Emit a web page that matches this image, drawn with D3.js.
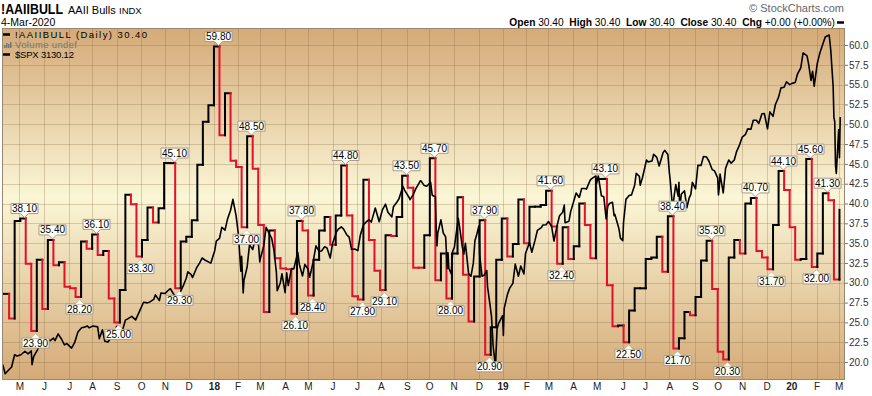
<!DOCTYPE html>
<html>
<head>
<meta charset="utf-8">
<script src="https://cdn.jsdelivr.net/npm/d3@7"></script>
<style>
  body { margin: 0; background: #fff; }
  svg { display: block; font-family: "Liberation Sans", Arial, sans-serif; }
</style>
</head>
<body>
<script>
// AAII bullish %, one reading per week starting at bullStart
const bullStart = "2017-04-11";
const bullValues = [
  28.6, 25.5, 37.8, 38.1, 32.4, 23.9, 32.9, 26.7, 35.4, 32.2,
  32.6, 29.5, 29.3, 28.2, 35.2, 34.3, 36.1, 33.5, 34.0, 28.0,
  25.0, 29.1, 41.1, 39.9, 33.3, 35.4, 39.5, 37.6, 39.4, 45.1,
  45.1, 29.3, 35.2, 35.8, 37.9, 44.9, 50.3, 52.4, 59.8, 48.6,
  53.9, 45.4, 44.6, 37.0, 48.5, 44.4, 37.3, 26.3, 36.6, 33.1,
  31.8, 31.7, 26.1, 37.8, 36.6, 28.4, 32.9, 36.6, 38.3, 34.8,
  38.5, 44.8, 38.5, 28.3, 27.9, 43.0, 35.4, 31.5, 29.1, 36.0,
  35.9, 38.3, 43.5, 42.0, 31.9, 31.9, 36.0, 45.7, 30.3, 33.7,
  28.0, 33.7, 40.8, 31.0, 25.1, 30.8, 37.9, 20.9, 24.4, 32.9,
  38.1, 33.3, 34.9, 40.5, 35.0, 39.6, 39.6, 39.8, 41.6, 37.1,
  32.4, 37.0, 33.0, 34.6, 40.0, 37.3, 33.1, 43.1, 43.1, 29.7,
  24.5, 24.6, 22.5, 26.5, 29.3, 29.3, 33.0, 33.2, 35.8, 31.4,
  38.4, 21.7, 23.0, 26.3, 25.9, 28.2, 32.8, 35.3, 29.2, 21.3,
  20.3, 33.2, 35.4, 33.7, 40.0, 40.7, 34.0, 33.2, 31.7, 37.3,
  44.1, 41.7, 37.0, 32.9, 33.0, 45.6, 32.0, 33.7, 41.3, 40.4,
  30.4, 39.2
];
// weeks that carry a value callout (index into bullValues)
const peakWeeks = [3, 8, 16, 30, 38, 44, 53, 61, 72, 77, 86, 98, 108, 120, 127, 135, 140, 145, 148];
const troughWeeks = [5, 13, 20, 24, 31, 43, 52, 55, 64, 68, 80, 87, 100, 112, 121, 130, 138, 146];

// S&P 500 closes (overlay)
const spxDates = [
  "2017-04-10","2017-04-13","2017-04-18","2017-04-21","2017-04-25","2017-04-28","2017-05-03","2017-05-08","2017-05-12","2017-05-16",
  "2017-05-17","2017-05-19","2017-05-24","2017-05-26","2017-06-01","2017-06-05","2017-06-09","2017-06-13","2017-06-15","2017-06-19",
  "2017-06-23","2017-06-27","2017-06-30","2017-07-06","2017-07-10","2017-07-14","2017-07-19","2017-07-21","2017-07-26","2017-07-28",
  "2017-08-02","2017-08-08","2017-08-10","2017-08-14","2017-08-17","2017-08-21","2017-08-24","2017-08-29","2017-09-01","2017-09-05",
  "2017-09-08","2017-09-12","2017-09-15","2017-09-20","2017-09-25","2017-09-29","2017-10-05","2017-10-10","2017-10-13","2017-10-18",
  "2017-10-20","2017-10-25","2017-10-27","2017-11-01","2017-11-06","2017-11-08","2017-11-15","2017-11-20","2017-11-24","2017-11-28",
  "2017-11-30","2017-12-04","2017-12-06","2017-12-11","2017-12-15","2017-12-18","2017-12-22","2017-12-29",
  "2018-01-03","2018-01-05","2018-01-09","2018-01-12","2018-01-16","2018-01-19","2018-01-23","2018-01-26","2018-01-30","2018-02-02",
  "2018-02-05","2018-02-06","2018-02-08","2018-02-09","2018-02-13","2018-02-16","2018-02-20","2018-02-23","2018-02-27","2018-03-01",
  "2018-03-02","2018-03-06","2018-03-09","2018-03-13","2018-03-16","2018-03-19","2018-03-22","2018-03-23","2018-03-27","2018-03-29",
  "2018-04-02","2018-04-04","2018-04-06","2018-04-10","2018-04-13","2018-04-18","2018-04-20","2018-04-24","2018-04-27","2018-05-01",
  "2018-05-03","2018-05-07","2018-05-11","2018-05-15","2018-05-18","2018-05-22","2018-05-25","2018-05-29","2018-06-01","2018-06-06",
  "2018-06-08","2018-06-12","2018-06-15","2018-06-19","2018-06-22","2018-06-25","2018-06-29","2018-07-03","2018-07-06","2018-07-10",
  "2018-07-13","2018-07-17","2018-07-20","2018-07-25","2018-07-30","2018-08-03","2018-08-07","2018-08-10","2018-08-15","2018-08-17",
  "2018-08-21","2018-08-24","2018-08-29","2018-08-31","2018-09-06","2018-09-07","2018-09-11","2018-09-14","2018-09-20","2018-09-21",
  "2018-09-25","2018-09-28","2018-10-03","2018-10-05","2018-10-09","2018-10-10","2018-10-11","2018-10-12","2018-10-16","2018-10-19",
  "2018-10-22","2018-10-24","2018-10-25","2018-10-26","2018-10-29","2018-10-31","2018-11-02","2018-11-07","2018-11-09","2018-11-12",
  "2018-11-14","2018-11-16","2018-11-20","2018-11-23","2018-11-26","2018-11-28","2018-11-30","2018-12-03","2018-12-04","2018-12-07",
  "2018-12-10","2018-12-13","2018-12-14","2018-12-17","2018-12-19","2018-12-21","2018-12-24","2018-12-26","2018-12-28",
  "2019-01-02","2019-01-03","2019-01-04","2019-01-08","2019-01-11","2019-01-15","2019-01-18","2019-01-22","2019-01-25","2019-01-29",
  "2019-01-31","2019-02-05","2019-02-08","2019-02-12","2019-02-15","2019-02-20","2019-02-22","2019-02-26","2019-03-01","2019-03-05",
  "2019-03-08","2019-03-12","2019-03-15","2019-03-19","2019-03-21","2019-03-22","2019-03-27","2019-03-29","2019-04-02","2019-04-05",
  "2019-04-09","2019-04-12","2019-04-16","2019-04-18","2019-04-23","2019-04-26","2019-04-30","2019-05-01","2019-05-03","2019-05-07",
  "2019-05-10","2019-05-13","2019-05-15","2019-05-17","2019-05-21","2019-05-23","2019-05-24","2019-05-29","2019-05-31","2019-06-03",
  "2019-06-04","2019-06-07","2019-06-11","2019-06-14","2019-06-18","2019-06-20","2019-06-24","2019-06-25","2019-06-28","2019-07-03",
  "2019-07-05","2019-07-10","2019-07-12","2019-07-16","2019-07-19","2019-07-24","2019-07-26","2019-07-30","2019-08-01","2019-08-02",
  "2019-08-05","2019-08-07","2019-08-09","2019-08-12","2019-08-13","2019-08-14","2019-08-16","2019-08-20","2019-08-23","2019-08-26",
  "2019-08-28","2019-08-30","2019-09-03","2019-09-06","2019-09-10","2019-09-13","2019-09-17","2019-09-20","2019-09-24","2019-09-27",
  "2019-10-01","2019-10-02","2019-10-03","2019-10-04","2019-10-08","2019-10-11","2019-10-15","2019-10-18","2019-10-22","2019-10-25",
  "2019-10-28","2019-11-01","2019-11-05","2019-11-08","2019-11-12","2019-11-15","2019-11-19","2019-11-22","2019-11-26","2019-11-29",
  "2019-12-03","2019-12-06","2019-12-10","2019-12-13","2019-12-17","2019-12-20","2019-12-24","2019-12-27","2019-12-31",
  "2020-01-03","2020-01-07","2020-01-10","2020-01-14","2020-01-17","2020-01-22","2020-01-24","2020-01-27","2020-01-29","2020-01-31",
  "2020-02-04","2020-02-07","2020-02-11","2020-02-14","2020-02-19","2020-02-21","2020-02-24","2020-02-25","2020-02-26","2020-02-27",
  "2020-02-28","2020-03-02","2020-03-03","2020-03-04"
];
const spxValues = [
  2357, 2329, 2342, 2349, 2388, 2384, 2388, 2399, 2391, 2400,
  2357, 2382, 2404, 2416, 2430, 2437, 2432, 2440, 2432, 2453,
  2438, 2419, 2423, 2409, 2427, 2459, 2473, 2473, 2478, 2472,
  2478, 2475, 2438, 2466, 2430, 2428, 2439, 2446, 2477, 2457,
  2461, 2496, 2500, 2508, 2497, 2519, 2552, 2550, 2553, 2561,
  2575, 2557, 2581, 2579, 2591, 2594, 2565, 2582, 2602, 2627,
  2647, 2639, 2629, 2659, 2675, 2690, 2683, 2674,
  2713, 2743, 2751, 2786, 2777, 2810, 2839, 2873, 2822, 2762,
  2649, 2695, 2581, 2620, 2662, 2732, 2716, 2747, 2744, 2678,
  2691, 2728, 2786, 2765, 2752, 2712, 2644, 2588, 2613, 2641,
  2582, 2644, 2604, 2657, 2656, 2708, 2670, 2634, 2670, 2655,
  2630, 2672, 2728, 2711, 2712, 2725, 2721, 2690, 2735, 2772,
  2779, 2787, 2780, 2762, 2755, 2717, 2718, 2713, 2760, 2793,
  2801, 2810, 2802, 2846, 2803, 2840, 2858, 2833, 2818, 2850,
  2863, 2875, 2914, 2902, 2878, 2872, 2888, 2905, 2931, 2930,
  2916, 2914, 2926, 2886, 2881, 2786, 2728, 2767, 2809, 2768,
  2756, 2657, 2706, 2658, 2641, 2712, 2723, 2814, 2781, 2726,
  2702, 2736, 2642, 2633, 2674, 2744, 2760, 2790, 2700, 2633,
  2637, 2651, 2600, 2546, 2507, 2417, 2351, 2468, 2486,
  2510, 2448, 2532, 2575, 2596, 2611, 2671, 2633, 2665, 2640,
  2704, 2738, 2708, 2745, 2776, 2785, 2793, 2794, 2804, 2789,
  2743, 2792, 2822, 2833, 2855, 2800, 2805, 2834, 2867, 2893,
  2879, 2907, 2907, 2905, 2934, 2940, 2946, 2924, 2946, 2884,
  2881, 2812, 2851, 2860, 2864, 2822, 2826, 2783, 2752, 2744,
  2803, 2873, 2885, 2887, 2917, 2954, 2945, 2917, 2942, 2996,
  2990, 2993, 3014, 3004, 2977, 3019, 3026, 3013, 2954, 2932,
  2845, 2884, 2919, 2883, 2926, 2840, 2889, 2900, 2847, 2878,
  2888, 2926, 2906, 2979, 2979, 3007, 3005, 2992, 2966, 2962,
  2940, 2887, 2910, 2952, 2893, 2970, 2996, 2986, 2996, 3023,
  3039, 3067, 3075, 3093, 3092, 3120, 3120, 3110, 3140, 3141,
  3093, 3146, 3132, 3169, 3192, 3221, 3223, 3240, 3231,
  3235, 3238, 3265, 3283, 3330, 3321, 3295, 3244, 3273, 3226,
  3298, 3328, 3358, 3380, 3386, 3338, 3226, 3128, 3116, 2979,
  2954, 3090, 3003, 3130
];
const yTicks = [20, 22.5, 25, 27.5, 30, 32.5, 35, 37.5, 40, 42.5, 45, 47.5, 50, 52.5, 55, 57.5, 60];

const W = 872, H = 396;
const L = 2, R = 845, T = 28, B = 380;
const red = "#e3102c";
const parse = d3.timeParse("%Y-%m-%d");

const svg = d3.select("body").append("svg")
  .attr("width", W)
  .attr("height", H);

const x = d3.scaleTime()
  .domain([new Date(2017, 3, 9), new Date(2020, 2, 10)])
  .range([L, R]);
const y = d3.scaleLinear()
  .domain([20, 60])
  .range([362, 45]);
const ySpx = d3.scaleLinear()
  .domain([2328, 3386])
  .range([374, 35]);

// background gradient
const grad = svg.append("defs").append("linearGradient")
  .attr("id", "bg").attr("x1", 0).attr("y1", 0).attr("x2", 0).attr("y2", 1);
grad.append("stop").attr("offset", "0%").attr("stop-color", "#d4aa78");
grad.append("stop").attr("offset", "48%").attr("stop-color", "#fbf6d6");
grad.append("stop").attr("offset", "100%").attr("stop-color", "#d4aa77");
svg.select("defs").append("clipPath").attr("id", "clip")
  .append("rect").attr("x", L).attr("y", T).attr("width", R - L).attr("height", B - T);

svg.append("rect")
  .attr("x", L).attr("y", T).attr("width", R - L).attr("height", B - T)
  .attr("fill", "url(#bg)");

// month boundaries = first trading day of each month
const months = d3.timeMonth.range(new Date(2017, 4, 1), new Date(2020, 2, 5)).map(d => {
  let t = new Date(d);
  if (t.getMonth() === 0) t = d3.timeDay.offset(t, 1);
  while (t.getDay() === 0 || t.getDay() === 6) t = d3.timeDay.offset(t, 1);
  return t;
});

// grid
const grid = svg.append("g").attr("stroke", "rgba(130,100,60,0.28)").attr("stroke-width", 1);
grid.selectAll("line.h").data(yTicks).enter().append("line")
  .attr("x1", L).attr("x2", R)
  .attr("y1", d => Math.round(y(d)) + 0.5).attr("y2", d => Math.round(y(d)) + 0.5);
grid.selectAll("line.v").data(months).enter().append("line")
  .attr("y1", T).attr("y2", B)
  .attr("x1", d => Math.round(x(d)) + 0.5).attr("x2", d => Math.round(x(d)) + 0.5);

// AAII step line, red on weeks that fell, black on weeks that rose
const bull = bullValues.map((v, i) => ({ date: d3.timeDay.offset(parse(bullStart), 7 * i), value: v }));
const segs = [];
let col = "#000";
bull.forEach((d, i) => {
  const prev = i > 0 ? bull[i - 1].value : d.value;
  if (d.value < prev) col = red;
  else if (d.value > prev) col = "#000";
  const next = i < bull.length - 1 ? bull[i + 1].date : d.date;
  segs.push({ pts: [[d.date, prev], [d.date, d.value], [next, d.value]], color: col });
});
const stepLine = d3.line().x(p => x(p[0])).y(p => y(p[1]));
const plotG = svg.append("g").attr("clip-path", "url(#clip)");
plotG.selectAll("path.bull").data(segs).enter().append("path")
  .attr("class", "bull")
  .attr("d", d => stepLine(d.pts))
  .attr("fill", "none")
  .attr("stroke", d => d.color)
  .attr("stroke-width", 2)
  .attr("stroke-linecap", "square");

// SPX overlay
const spx = spxDates.map((d, i) => ({ date: parse(d), value: spxValues[i] }));
plotG.append("path")
  .datum(spx)
  .attr("d", d3.line().x(d => x(d.date)).y(d => ySpx(d.value)))
  .attr("fill", "none")
  .attr("stroke", "#000")
  .attr("stroke-width", 1.6)
  .attr("stroke-linejoin", "round");

// value callouts
function callout(i, up) {
  const d = bull[i];
  const px = Math.round(x(d3.timeDay.offset(d.date, 5))) + 0.5;
  const py = y(d.value);
  const bw = 27, bh = 10;
  const tip = up ? py - 1 : py + 3;
  const base = up ? tip - 4 : tip + 4;
  const top = up ? base - bh : base;
  const g = svg.append("g");
  g.append("path")
    .attr("d", `M${px - bw / 2},${top} h${bw} v${bh} ` + (up
      ? `H${px + 4} L${px},${tip} L${px - 4},${base} H${px - bw / 2} Z`
      : `H${px - bw / 2} Z M${px - 4},${base} L${px},${tip} L${px + 4},${base}`))
    .attr("fill", "#fffffa")
    .attr("stroke", "#a89a8a")
    .attr("stroke-width", 1);
  if (!up) {
    g.append("path")
      .attr("d", `M${px - 4},${base} L${px},${tip} L${px + 4},${base} Z`)
      .attr("fill", "#fffffa").attr("stroke", "none");
  }
  g.append("text")
    .attr("x", px).attr("y", top + bh - 1.5)
    .attr("text-anchor", "middle")
    .attr("font-size", 10)
    .attr("fill", "#000")
    .text(d.value.toFixed(2));
}
peakWeeks.forEach(i => callout(i, true));
troughWeeks.forEach(i => callout(i, false));

// frame
svg.append("rect")
  .attr("x", L + 0.5).attr("y", T + 0.5).attr("width", R - L - 1).attr("height", B - T - 1)
  .attr("fill", "none").attr("stroke", "#9a8771");

// right axis
const yAxis = svg.append("g")
  .attr("transform", `translate(${R},0)`)
  .call(d3.axisRight(y).tickValues(yTicks).tickFormat(d3.format(".1f")).tickSize(3).tickPadding(1));
yAxis.select(".domain").remove();
yAxis.selectAll("line").attr("stroke", "#777");
yAxis.selectAll("text").attr("font-size", 10).attr("fill", "#333")
  .attr("font-family", "Liberation Sans, Arial, sans-serif");

// bottom axis
const monthFmt = d => d.getMonth() === 0 ? d3.timeFormat("%y")(d) : d3.timeFormat("%b")(d)[0];
const xAxis = svg.append("g")
  .attr("transform", `translate(0,${B})`)
  .call(d3.axisBottom(x).tickValues(months).tickFormat(monthFmt).tickSize(0).tickPadding(3));
xAxis.select(".domain").remove();
xAxis.selectAll("text")
  .attr("font-size", 10).attr("fill", "#222")
  .attr("font-family", "Liberation Sans, Arial, sans-serif")
  .attr("font-weight", d => d.getMonth() === 0 ? "bold" : "normal");

// header
svg.append("text").attr("x", 1).attr("y", 14)
  .attr("font-size", 14).attr("font-weight", "bold")
  .attr("textLength", 62).attr("lengthAdjust", "spacingAndGlyphs")
  .text("!AAIIBULL");
svg.append("text").attr("x", 68).attr("y", 14).attr("font-size", 11).text("AAII Bulls");
svg.append("text").attr("x", 119).attr("y", 14).attr("font-size", 9.5).text("INDX");
svg.append("text").attr("x", 1).attr("y", 26).attr("font-size", 10.5).text("4-Mar-2020");
svg.append("text").attr("x", 844).attr("y", 12).attr("text-anchor", "end")
  .attr("font-size", 11).attr("fill", "#666").text("\u00a9 StockCharts.com");

const ohlc = svg.append("text").attr("x", 835).attr("y", 26)
  .attr("text-anchor", "end").attr("font-size", 10.2).attr("xml:space", "preserve");
[["Open", " 30.40  "], ["High", " 30.40  "], ["Low", " 30.40  "], ["Close", " 30.40  "], ["Chg", " +0.00 (+0.00%)"]]
  .forEach(([k, v]) => {
    ohlc.append("tspan").attr("font-weight", "bold").text(k);
    ohlc.append("tspan").text(v);
  });
svg.append("line").attr("x1", 837).attr("x2", 844).attr("y1", 22.5).attr("y2", 22.5)
  .attr("stroke", "#000").attr("stroke-width", 2.5);

// legend
const leg = svg.append("g").attr("font-size", 9.5);
leg.append("line").attr("x1", 3).attr("x2", 10).attr("y1", 34.5).attr("y2", 34.5)
  .attr("stroke", "#000").attr("stroke-width", 2.5);
leg.append("text").attr("x", 15).attr("y", 38)
  .attr("textLength", 132).attr("lengthAdjust", "spacing")
  .text("!AAIIBULL (Daily) 30.40");
[[4, 3], [6, 5], [8, 4], [10, 6]].forEach(([bx, bhgt]) => {
  leg.append("rect").attr("x", bx).attr("y", 48 - bhgt).attr("width", 1.5).attr("height", bhgt).attr("fill", "#777");
});
leg.append("text").attr("x", 15).attr("y", 48).attr("fill", "#777")
  .attr("textLength", 62).attr("lengthAdjust", "spacing")
  .text("Volume undef");
leg.append("line").attr("x1", 3).attr("x2", 10).attr("y1", 54.5).attr("y2", 54.5)
  .attr("stroke", "#000").attr("stroke-width", 2.5);
leg.append("text").attr("x", 15).attr("y", 58)
  .attr("textLength", 59).attr("lengthAdjust", "spacing")
  .text("$SPX 3130.12");
</script>
</body>
</html>
